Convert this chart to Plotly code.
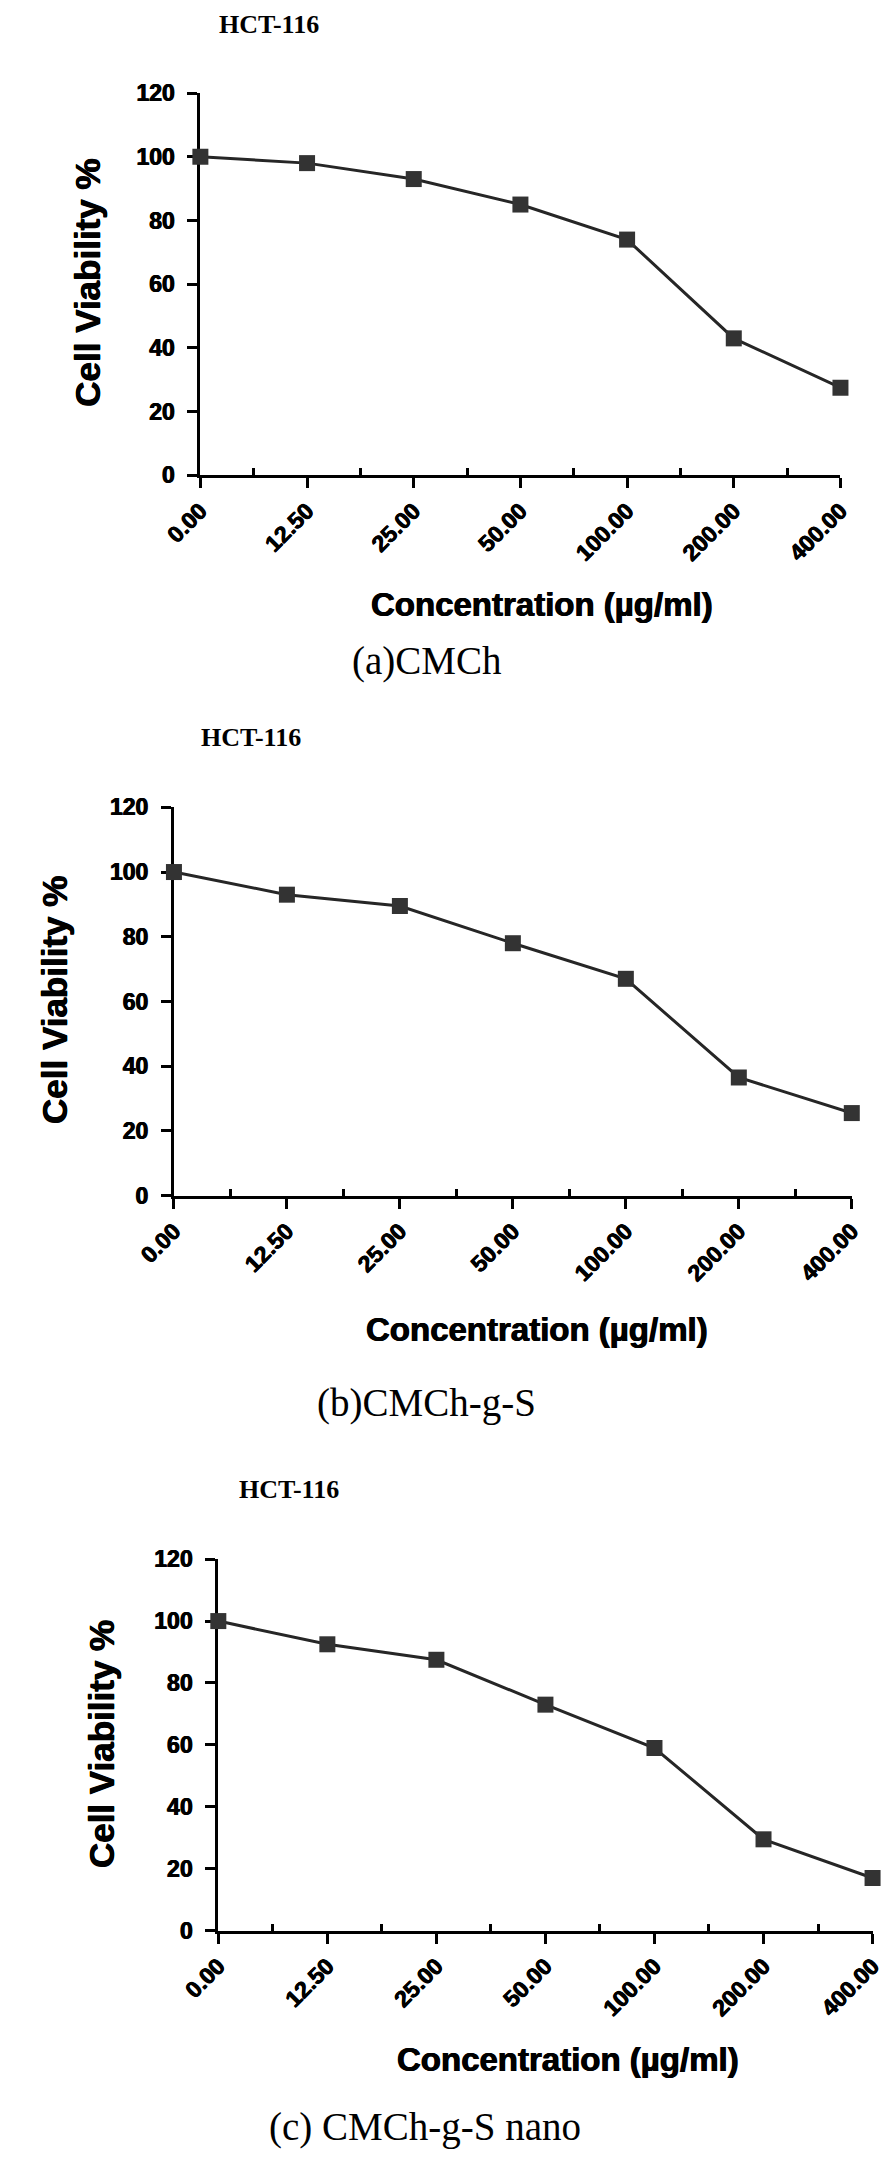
import plotly.graph_objects as go

# ---------------- data ----------------
concentration_labels = ["0.00", "12.50", "25.00", "50.00", "100.00", "200.00", "400.00"]
viability_cmch = [100, 98, 93, 85, 74, 43, 27.5]
viability_cmch_g_s = [100, 93, 89.5, 78, 67, 36.5, 25.5]
viability_cmch_g_s_nano = [100, 92.5, 87.5, 73, 59, 29.5, 17]
y_tick_values = [0, 20, 40, 60, 80, 100, 120]
panel_captions = ["(a)CMCh", "(b)CMCh-g-S", "(c) CMCh-g-S nano"]
cell_line = "HCT-116"
x_title = "Concentration (µg/ml)"
y_title = "Cell Viability %"

W, H = 894, 2160

# panel layout in pixels: x domain, y domain (top, bottom), text positions
panels = [
    dict(vals=viability_cmch, cap=panel_captions[0], xd=(172, 850), yd=(81, 468),
         hct=(245, 12), yt=(53, 273), xt=(534, 599), capxy=(412, 656)),
    dict(vals=viability_cmch_g_s, cap=panel_captions[1], xd=(144, 862), yd=(804, 1197),
         hct=(226, 733), yt=(18, 999), xt=(529, 1333), capxy=(412, 1407)),
    dict(vals=viability_cmch_g_s_nano, cap=panel_captions[2], xd=(191, 884), yd=(1565, 1941),
         hct=(266, 1494), yt=(68, 1752), xt=(561, 2071), capxy=(410, 2140)),
]

SANS = "Liberation Sans, Arial, sans-serif"
SERIF = "Liberation Serif, Times New Roman, serif"
HEAVY = "0.5px 0px 0px black, -0.5px 0px 0px black"

fig = go.Figure()
layout = dict(width=W, height=H, autosize=False, margin=dict(l=0, r=0, t=0, b=0),
              paper_bgcolor="white", plot_bgcolor="white", showlegend=False)
annotations = []

xpos = list(range(len(concentration_labels)))
minor_vals = [i + 0.5 for i in range(len(concentration_labels) - 1)]

def px(x):
    return x / W

def py(y):
    return 1 - y / H

tick_font = dict(family=SANS, size=23, color="black", weight="bold", shadow=HEAVY)

for i, p in enumerate(panels):
    n = "" if i == 0 else str(i + 1)
    fig.add_trace(go.Scatter(
        x=xpos, y=p["vals"], mode="lines+markers",
        xaxis="x" + n, yaxis="y" + n, cliponaxis=False,
        line=dict(color="#262626", width=3),
        marker=dict(symbol="square", size=16, color="#333333", line=dict(width=0)),
    ))
    layout["xaxis" + n] = dict(
        domain=[px(p["xd"][0]), px(p["xd"][1])], anchor="y" + n,
        range=[0, len(concentration_labels) - 1], tickmode="array",
        tickvals=xpos, ticktext=concentration_labels, tickangle=-45,
        ticks="outside", ticklen=10, tickwidth=3, tickcolor="black",
        showline=True, linecolor="black", linewidth=3, showgrid=False, zeroline=False,
        tickfont=tick_font,
        minor=dict(tickmode="array", tickvals=minor_vals, ticks="inside",
                   ticklen=7, tickwidth=3, tickcolor="black", showgrid=False),
        layer="below traces", fixedrange=True,
    )
    layout["yaxis" + n] = dict(
        domain=[py(p["yd"][1]), py(p["yd"][0])], anchor="x" + n,
        range=[0, 120], tickmode="array", tickvals=y_tick_values,
        ticks="outside", ticklen=10, tickwidth=3, tickcolor="black",
        showline=True, linecolor="black", linewidth=3, showgrid=False, zeroline=False,
        tickfont=tick_font,
        ticklabelstandoff=8, layer="below traces", fixedrange=True,
    )
    annotations += [
        dict(text=cell_line, x=px(p["hct"][0]), y=py(p["hct"][1]), xref="paper", yref="paper",
             showarrow=False, xanchor="center", yanchor="middle",
             font=dict(family=SERIF, size=26, color="black", weight="bold")),
        dict(text=y_title, x=px(p["yt"][0]), y=py(p["yt"][1]), xref="paper", yref="paper",
             showarrow=False, xanchor="center", yanchor="middle", textangle=-90,
             font=dict(family=SANS, size=35, color="black", weight="bold", shadow=HEAVY)),
        dict(text=x_title, x=px(p["xt"][0]), y=py(p["xt"][1]), xref="paper", yref="paper",
             showarrow=False, xanchor="center", yanchor="middle",
             font=dict(family=SANS, size=33, color="black", weight="bold", shadow=HEAVY)),
        dict(text=p["cap"], x=px(p["capxy"][0]), y=py(p["capxy"][1]), xref="paper", yref="paper",
             showarrow=False, xanchor="center", yanchor="middle",
             font=dict(family=SERIF, size=39, color="black")),
    ]

layout["annotations"] = annotations
fig.update_layout(**layout)
fig.write_html(
    "out.html",
    config={"displayModeBar": False},
    post_script="document.body.style.margin='0';document.body.style.padding='0';",
)
